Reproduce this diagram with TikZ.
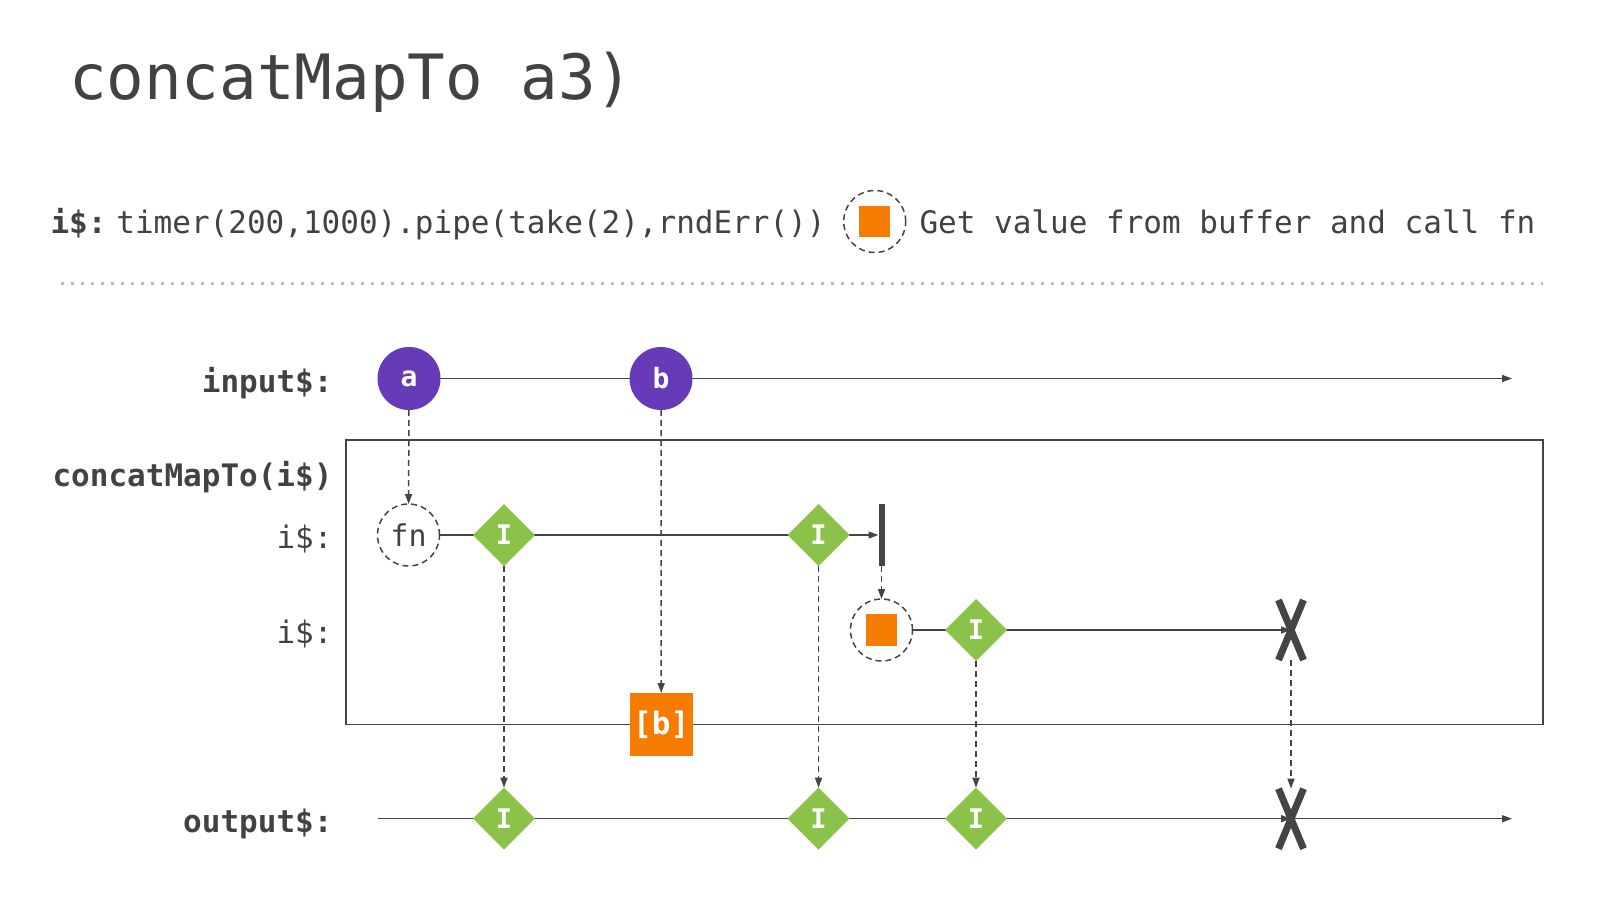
\documentclass[tikz,border=0pt]{standalone}
\usepackage{fontspec}
\setmonofont{DejaVu Sans Mono}
\usetikzlibrary{arrows.meta,shapes.geometric,shapes.misc,backgrounds}
\definecolor{ink}{HTML}{424242}
\definecolor{ln}{HTML}{444444}
\definecolor{evp}{HTML}{673AB7}
\definecolor{evg}{HTML}{8BC34A}
\definecolor{evo}{HTML}{F57C00}
\definecolor{sepc}{HTML}{BDBDBD}
\newcommand{\fsz}[1]{\fontsize{#1}{#1}\selectfont}
\begin{document}
\begin{tikzpicture}[x=1pt,y=-1pt,
  every node/.style={inner sep=0pt, outer sep=0pt},
  txt/.style={text=ink, font=\ttfamily\fsz{31}},
  lbl/.style={text=ink, font=\ttfamily\bfseries\fsz{31}, anchor=base east},
  lblr/.style={text=ink, font=\ttfamily\fsz{31}, anchor=base east},
  tl/.style={draw=ln, line width=1.5pt},
  tip/.style={-{Triangle[length=10pt,width=7pt]}},
  dsh/.style={draw=ln, line width=1.5pt, dash pattern=on 6pt off 4pt},
  evt/.style={circle, fill=evp, minimum size=63pt, text=white, font=\ttfamily\bfseries\fsz{28}},
  dia/.style={diamond, fill=evg, minimum width=62pt, minimum height=62pt, text=white, font=\ttfamily\bfseries\fsz{27}},
  fnc/.style={circle, draw=ln, fill=white, line width=1.5pt, dash pattern=on 6pt off 4pt, minimum size=62pt},
  sq/.style={fill=evo, minimum size=31.5pt},
  errx/.style={cross out, draw=ln, line width=7pt, minimum width=25pt, minimum height=60pt},
]
\useasboundingbox (0,0) rectangle (1600,900);

% header
\node[txt, font=\ttfamily\fsz{62.5}, anchor=base west] (title) at (69,99.3) {concatMapTo a3)};
\node[text=ink, font=\ttfamily\bfseries\fsz{31}, anchor=base] (legl) at (78.5,233.3) {i\$:};
\node[txt, anchor=base] (code) at (471,233.3) {timer(200,1000).pipe(take(2),rndErr())};
\node[fnc] (legc) at (874.7,221.5) {};
\node[sq] (legs) at (legc) {};
\node[txt, anchor=base west] (legt) at (919.5,233.3) {Get value from buffer and call fn};
\coordinate (sepL) at (61,283.5);
\coordinate (sepR) at (1543,283.5);

% labels
\node[lbl] (linp) at (332.5,392.5) {input\$:};
\node[lbl] (lcm) at (332.5,486) {concatMapTo(i\$)};
\node[lblr] (li1) at (332.5,548.5) {i\$:};
\node[lblr] (li2) at (332.5,643.5) {i\$:};
\node[lbl] (lout) at (332.5,832) {output\$:};

% operator box
\node[draw=ln, line width=1.5pt, minimum width=1197pt, minimum height=284.5pt] (box) at (944.5,582.25) {};

% input
\coordinate (inS) at (377.7,378.5);
\coordinate (inE) at (1512,378.5);
\node[evt] (a) at (409,378.5) {a};
\node[evt] (b) at (661,378.5) {b};

% inner stream 1
\node[fnc, text=ink, font=\ttfamily\fsz{30}] (fn) at (408.5,535) {fn};
\node[dia] (d1) at (504,535) {I};
\node[dia] (d2) at (818.5,535) {I};
\node[fill=ln, minimum width=6pt, minimum height=62pt] (cmp) at (881.5,535) {};

% inner stream 2
\node[fnc] (c2) at (881.5,630) {};
\node[sq] (c2s) at (c2) {};
\node[dia] (d3) at (976,630) {I};
\node[errx] (x1) at (1291,630) {};

% buffered value
\node[fill=evo, minimum size=63pt, text=white, font=\ttfamily\bfseries\fsz{31}] (bb) at (661.2,724.5) {[b]};

% output
\coordinate (outS) at (377.7,818.7);
\coordinate (outE) at (1512,818.7);
\coordinate (xin) at (1261,818.7);
\node[dia] (o1) at (504,818.7) {I};
\node[dia] (o2) at (818.5,818.7) {I};
\node[dia] (o3) at (976,818.7) {I};
\node[errx] (xo) at (1291,818.7) {};

\begin{scope}[on background layer]
  \fill[white] (0,0) rectangle (1600,900);
  \draw[sepc, line width=2.5pt, dash pattern=on 2.5pt off 7.5pt] (sepL) -- (sepR);
  \draw[tl,tip] (inS) -- (inE);
  \draw[tl,tip] (fn) -- (cmp);
  \draw[tl,tip] (c2) -- (x1.center);
  \draw[tl,tip] (outS) -- (outE);
  \draw[tl,tip] (xin) -- (xo.center);
  \draw[dsh,tip] (a) -- (fn);
  \draw[dsh,tip] (b) -- (bb);
  \draw[dsh,tip] (d1) -- (o1);
  \draw[dsh,tip] (d2) -- (o2);
  \draw[dsh,tip] (cmp) -- (c2);
  \draw[dsh,tip] (d3) -- (o3);
  \draw[dsh,tip] (x1) -- (xo);
\end{scope}
\end{tikzpicture}
\end{document}
